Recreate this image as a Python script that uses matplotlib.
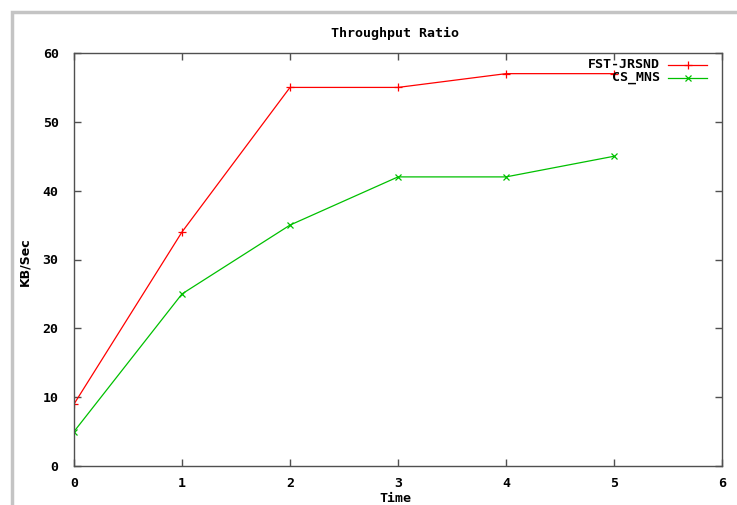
import matplotlib.pyplot as plt
from matplotlib.patches import Rectangle

# data
time = [0, 1, 2, 3, 4, 5]
fst_jrsnd = [9, 34, 55, 55, 57, 57]
cs_mns = [5, 25, 35, 42, 42, 45]

xticks = [0, 1, 2, 3, 4, 5, 6]
yticks = [0, 10, 20, 30, 40, 50, 60]

plt.rcParams['font.family'] = ['DejaVu Sans Mono']
plt.rcParams['font.weight'] = 'bold'
plt.rcParams['axes.labelweight'] = 'bold'
plt.rcParams['font.size'] = 9.5

W, H = 737, 505
fig = plt.figure(figsize=(W / 100, H / 100), dpi=100)

# grey window frame around the plot (left and top edge visible)
fig.patches.append(Rectangle((11.5 / W, -0.1), 1.2, (H - 11.5) / H + 0.1,
                             transform=fig.transFigure, fill=False,
                             edgecolor='#c4c4c4', linewidth=2.5))

ax = fig.add_axes([74 / W, 39 / H, 648 / W, 413 / H])

red = '#ff0000'
green = '#00c000'
ax.plot(time, fst_jrsnd, color=red, lw=0.9, marker='+', ms=6, mew=0.9)
ax.plot(time, cs_mns, color=green, lw=0.9, marker='x', ms=5, mew=0.9)

ax.set_xlim(0, 6)
ax.set_ylim(0, 60)
ax.set_xticks(xticks)
ax.set_yticks(yticks)
ax.tick_params(direction='in', length=5, width=1, color='#505050',
               top=True, right=True)
ax.tick_params(axis='x', pad=8)
ax.tick_params(axis='y', pad=11)
for sp in ax.spines.values():
    sp.set_color('#505050')
    sp.set_linewidth(1)

fig.text(395 / W, (H - 33) / H, 'Throughput Ratio', ha='center', va='center')
ax.set_xlabel('Time', fontweight='bold')
ax.xaxis.set_label_coords((395 - 74) / 648, (466 - 498) / 413)
ax.xaxis.label.set_va('center')
ax.set_ylabel('KB/Sec', family='DejaVu Sans', fontsize=9, fontweight='bold')
ax.yaxis.set_label_coords((25 - 74) / 648, (466 - 262) / 413)
ax.yaxis.label.set_va('center')

# gnuplot style key: right aligned text, sample line to the right
labels = ['FST-JRSND', 'CS_MNS']
colors = [red, green]
markers = ['+', 'x']
rows_y = [(H - 64.5) / H, (H - 77.5) / H]
for lab, c, m, yy in zip(labels, colors, markers, rows_y):
    fig.text(660 / W, yy, lab, ha='right', va='center')
    fig.add_artist(plt.Line2D([668 / W, 707 / W], [yy, yy], color=c,
                              lw=0.9, transform=fig.transFigure))
    fig.add_artist(plt.Line2D([687.5 / W], [yy], color=c, marker=m,
                              ms=6 if m == '+' else 5, mew=0.9,
                              transform=fig.transFigure))

fig.savefig('out.png', dpi=100)
plt.close(fig)
